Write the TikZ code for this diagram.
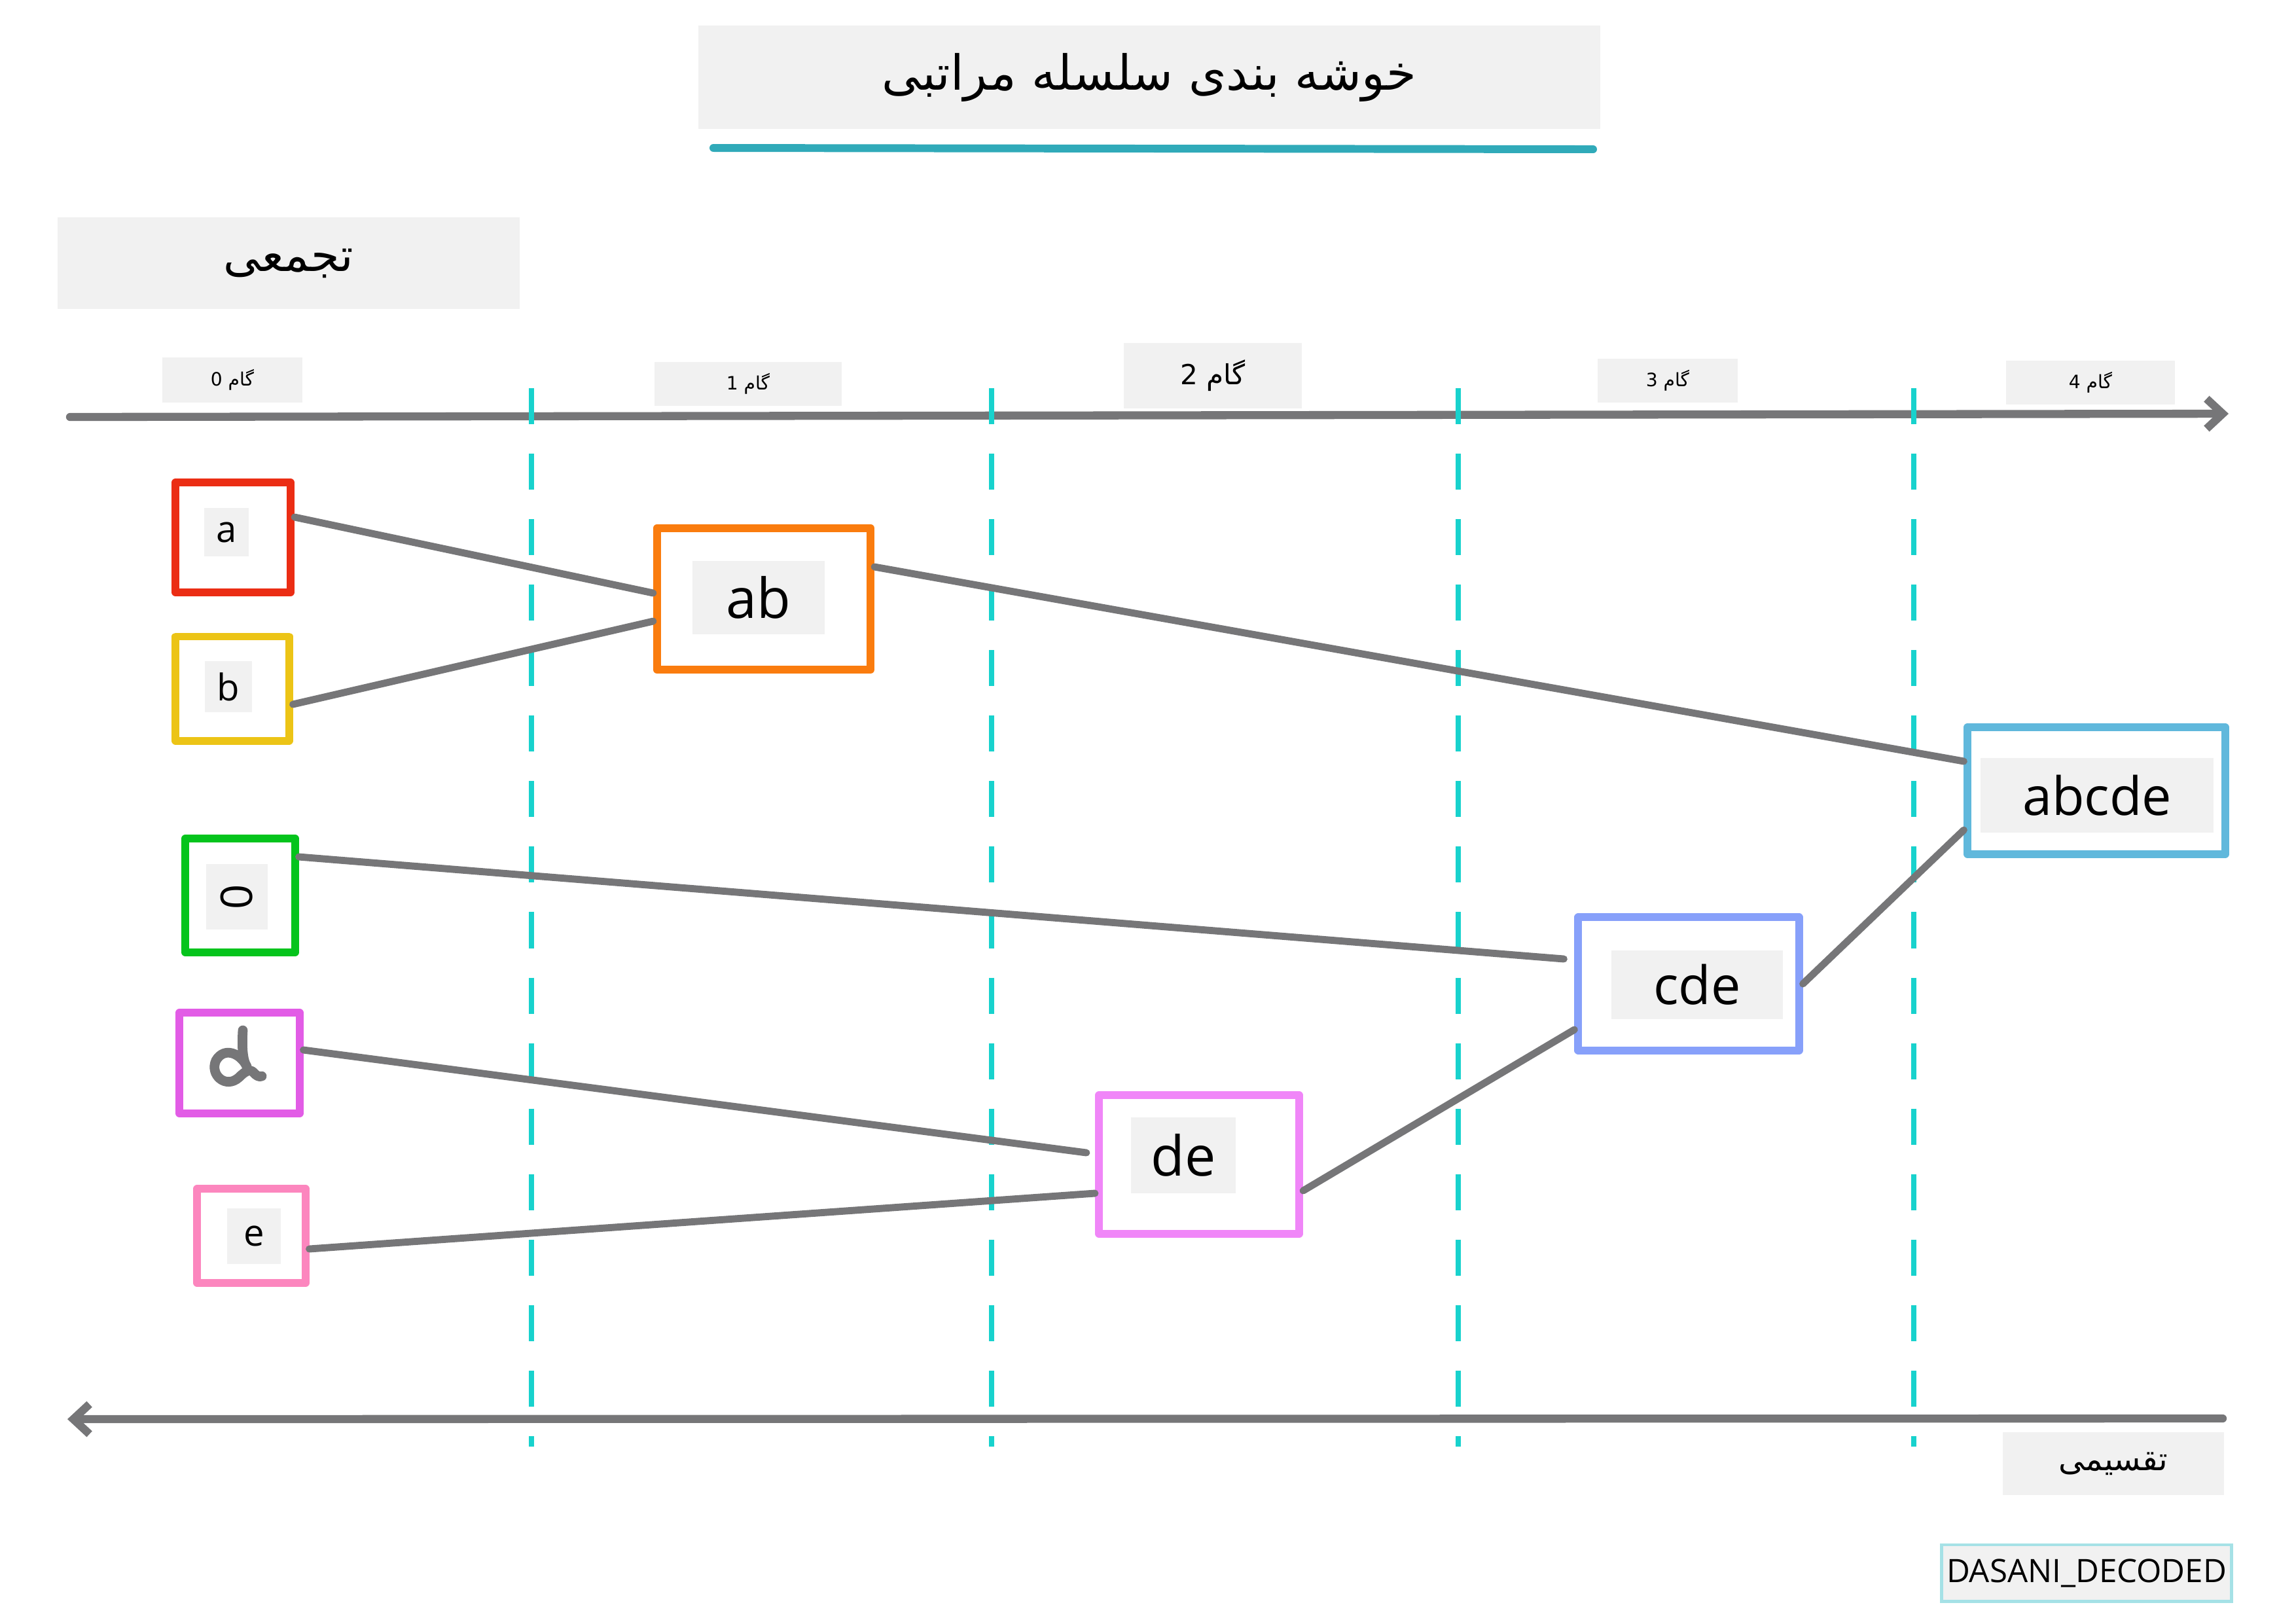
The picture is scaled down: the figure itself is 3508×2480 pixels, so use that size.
\documentclass[tikz,border=0pt]{standalone}
\usepackage{fontspec}
\setmainfont{Open Sans}
\newfontfamily\farsi[Script=Arabic]{DejaVu Sans}
\TeXXeTstate=1
\usetikzlibrary{arrows.meta,calc}
\definecolor{tagbg}{RGB}{241,241,241}
\definecolor{linegray}{RGB}{118,118,120}
\definecolor{stepteal}{RGB}{24,210,205}
\definecolor{underteal}{RGB}{48,170,185}
\definecolor{signcyan}{RGB}{165,225,230}
\definecolor{cola}{RGB}{235,45,20}
\definecolor{colb}{RGB}{236,196,22}
\definecolor{colc}{RGB}{5,196,28}
\definecolor{cold}{RGB}{226,92,230}
\definecolor{cole}{RGB}{252,134,190}
\definecolor{colab}{RGB}{250,124,14}
\definecolor{colde}{RGB}{240,134,248}
\definecolor{colcde}{RGB}{135,160,250}
\definecolor{colabcde}{RGB}{96,184,220}
\begin{document}
\begin{tikzpicture}[x=0.01cm, y=-0.01cm,
    box/.style={draw=#1, line width=3.4pt, line join=round, fill=white, inner sep=0pt},
    tag/.style={fill=tagbg, inner sep=0pt},
    link/.style={draw=linegray, line width=3.1pt, line cap=round},
    stepline/.style={draw=stepteal, line width=2.5pt, dash pattern=on 0.55cm off 0.45cm},
    axis/.style={draw=linegray, line width=3.5pt, line cap=round}]
\useasboundingbox (0,0) rectangle (3508,2480);

% title and side labels
\node[tag, minimum width=13.78cm, minimum height=1.57cm] (title) at (1756,118) {\farsi\fontsize{21}{25}\selectfont\beginR خوشه بندی سلسله مراتبی\endR};
\draw[draw=underteal, line width=3.4pt, line cap=round] (1090,226) -- (2434,228);
\node[tag, minimum width=7.05cm, minimum height=1.39cm] (agg) at (441,402) {\farsi\fontsize{20}{24}\selectfont\beginR تجمعی\endR};
\node[tag, minimum width=3.38cm, minimum height=0.96cm] (div) at (3229,2236) {\farsi\fontsize{14}{17}\selectfont\beginR تقسیمی\endR};
\node[tag, draw=signcyan, line width=1.4pt, minimum width=4.42cm, minimum height=0.86cm] (sign) at (3188,2403) {\fontsize{14}{17}\selectfont DASANI\_DECODED};

% steps
\node[tag, minimum width=2.13cm, minimum height=0.69cm] (s0) at (355,580) {\farsi\fontsize{8}{10}\selectfont\beginR گام 0\endR};
\node[tag, minimum width=2.86cm, minimum height=0.67cm] (s1) at (1143,586) {\farsi\fontsize{8}{10}\selectfont\beginR گام 1\endR};
\node[tag, minimum width=2.71cm, minimum height=1.00cm] (s2) at (1853,574) {\farsi\fontsize{12}{14}\selectfont\beginR گام 2\endR};
\node[tag, minimum width=2.14cm, minimum height=0.67cm] (s3) at (2548,581) {\farsi\fontsize{8}{10}\selectfont\beginR گام 3\endR};
\node[tag, minimum width=2.57cm, minimum height=0.67cm] (s4) at (3194,584) {\farsi\fontsize{8}{10}\selectfont\beginR گام 4\endR};

% axes
\coordinate (top-start) at (107,637);
\coordinate (top-end) at (3405,632);
\coordinate (bot-start) at (3396,2167);
\coordinate (bot-end) at (103,2168);
\draw[axis, -{Straight Barb[length=7pt, width=13pt]}] (top-start) -- (top-end);
\draw[axis, -{Straight Barb[length=7pt, width=13pt]}] (bot-start) -- (bot-end);
\foreach \x in {812,1515,2228,2924}
    \draw[stepline] (\x,593) -- (\x,2210);

% clusters
\node[box=cola, minimum width=1.76cm, minimum height=1.67cm] (a) at (356,821) {};
\node[box=colb, minimum width=1.73cm, minimum height=1.59cm] (b) at (355,1052) {};
\node[box=colc, minimum width=1.67cm, minimum height=1.74cm] (c) at (367,1368) {};
\node[box=cold, minimum width=1.83cm, minimum height=1.54cm] (d) at (366,1624) {};
\node[box=cole, minimum width=1.65cm, minimum height=1.44cm] (e) at (384,1888) {};
\node[box=colab, minimum width=3.26cm, minimum height=2.16cm] (ab) at (1167,915) {};
\node[box=colde, minimum width=3.06cm, minimum height=2.11cm] (de) at (1832,1779) {};
\node[box=colcde, minimum width=3.37cm, minimum height=2.03cm] (cde) at (2580,1503) {};
\node[box=colabcde, minimum width=3.93cm, minimum height=1.94cm] (abcde) at (3203,1208) {};

\node[tag, minimum width=0.67cm, minimum height=0.74cm, font=\fontsize{16}{19}\selectfont] (a-tag) at (346,813) {a};
\node[tag, minimum width=0.72cm, minimum height=0.78cm, font=\fontsize{16}{19}\selectfont] (b-tag) at (349,1049) {b};
\node[tag, minimum width=0.93cm, minimum height=1.00cm, font=\fontsize{19}{22}\selectfont] (c-tag) at (362,1370) {\rotatebox{90}{0}};
\node[tag, minimum width=0.81cm, minimum height=0.85cm, font=\fontsize{16}{19}\selectfont] (e-tag) at (388,1888) {e};
\node[tag, minimum width=2.01cm, minimum height=1.12cm, font=\fontsize{24}{28}\selectfont] (ab-tag) at (1159,913) {ab};
\node[tag, minimum width=1.59cm, minimum height=1.16cm, font=\fontsize{24}{28}\selectfont] (de-tag) at (1808,1765) {de};
\node[tag, minimum width=2.62cm, minimum height=1.05cm, font=\fontsize{23}{27}\selectfont] (cde-tag) at (2593,1504) {cde};
\node[tag, minimum width=3.56cm, minimum height=1.14cm, font=\fontsize{23}{27}\selectfont] (abcde-tag) at (3204,1215) {abcde};

% hand-written d
\draw[linegray, line width=4.2pt, line cap=round, line join=round]
    (371,1574) .. controls (369,1605) and (372,1622) .. (377,1629)
    .. controls (368,1610) and (343,1598) .. (330,1620)
    .. controls (320,1642) and (345,1664) .. (365,1646)
    .. controls (373,1638) and (381,1632) .. (387,1638)
    .. controls (391,1643) and (396,1646) .. (400,1644);

% merges
\draw[link] ($(a.east)+(0,-31)$) -- ($(ab.west)+(0,-9)$);
\draw[link] ($(b.east)+(0,24)$) -- ($(ab.west)+(0,34)$);
\draw[link] ($(ab.east)+(0,-49)$) -- ($(abcde.west)+(0,-45)$);
\draw[link] ($(c.east)+(0,-59)$) -- ($(cde.west)+(-16,-38)$);
\draw[link] ($(d.east)+(0,-20)$) -- ($(de.west)+(-13,-18)$);
\draw[link] ($(e.east)+(0,20)$) -- ($(de.west)+(0,44)$);
\draw[link] ($(de.east)+(0,40)$) -- ($(cde.west)+(0,70)$);
\draw[link] (cde.east) -- ($(abcde.west)+(0,60)$);
\end{tikzpicture}
\end{document}
